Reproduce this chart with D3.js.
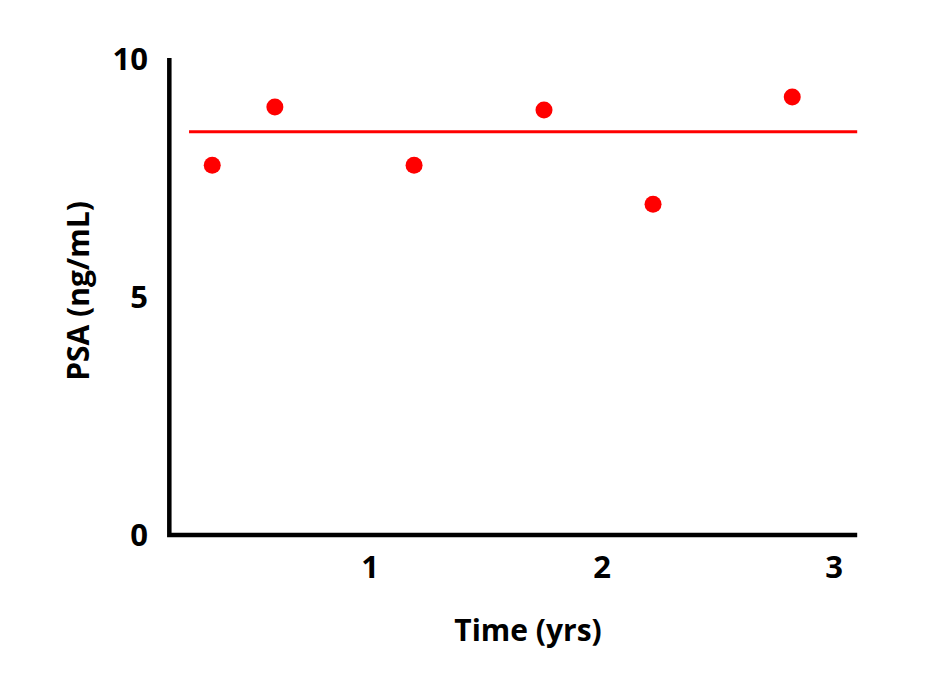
<!DOCTYPE html>
<html>
<head>
<meta charset="utf-8">
<script src="https://cdn.jsdelivr.net/npm/d3@7"></script>
<style>
	body { margin: 0; background: #fff; }
	text { font-family: "Open Sans", sans-serif; font-weight: 700; fill: #000; }
</style>
</head>
<body>
<div id="chart"></div>
<script>
// PSA readings over time
const times = [0.32, 0.59, 1.19, 1.75, 2.22, 2.82];
const psaValues = [7.77, 8.99, 7.77, 8.93, 6.95, 9.2];
const refLevel = 8.47;
const refSpan = [0.22, 3.1];
const xTicks = [1, 2, 3];
const yTicks = [0, 5, 10];

(() => {
	const width = 936;
	const height = 690;

	const svg = d3.select('#chart').append('svg')
		.attr('width', width)
		.attr('height', height);

	const x = d3.scaleLinear()
		.domain([0, 3])
		.range([138, 834]);
	const y = d3.scaleLinear()
		.domain([0, 10])
		.range([535, 59]);

	const xStart = 0.135;
	const xEnd = 3.1;

	// axis lines (no tick marks)
	svg.append('path')
		.attr('d', `M${x(xStart)},${y(10) - 1}V${y(0)}H${x(xEnd)}`)
		.attr('fill', 'none')
		.attr('stroke', '#000')
		.attr('stroke-width', 4.5);

	// tick labels
	svg.append('g').selectAll('text')
		.data(yTicks)
		.enter().append('text')
			.attr('x', 148)
			.attr('y', d => y(d))
			.attr('dy', '0.36em')
			.attr('text-anchor', 'end')
			.style('font-size', '31px')
			.text(d => d);
	svg.append('g').selectAll('text')
		.data(xTicks)
		.enter().append('text')
			.attr('x', d => x(d))
			.attr('y', 578)
			.attr('text-anchor', 'middle')
			.style('font-size', '31px')
			.text(d => d);

	// axis titles
	svg.append('text')
		.attr('x', 528)
		.attr('y', 641)
		.attr('text-anchor', 'middle')
		.style('font-size', '30px')
		.text('Time (yrs)');
	svg.append('text')
		.attr('transform', `translate(89, 291) rotate(-90)`)
		.attr('text-anchor', 'middle')
		.style('font-size', '30px')
		.text('PSA (ng/mL)');

	// reference line
	svg.append('line')
		.attr('x1', x(refSpan[0]))
		.attr('x2', x(refSpan[1]))
		.attr('y1', y(refLevel))
		.attr('y2', y(refLevel))
		.attr('stroke', '#ff0000')
		.attr('stroke-width', 3);

	// points
	svg.append('g').selectAll('circle')
		.data(times.map((t, i) => ({ t, v: psaValues[i] })))
		.enter().append('circle')
			.attr('cx', d => x(d.t))
			.attr('cy', d => y(d.v))
			.attr('r', 8.5)
			.attr('fill', '#ff0000');
})();
</script>
</body>
</html>
